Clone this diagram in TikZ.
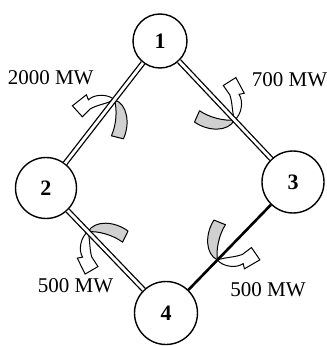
\documentclass[tikz,border=0pt]{standalone}
\usepackage{fontspec}
\setmainfont{Liberation Serif}
\usetikzlibrary{calc}
\definecolor{bandgray}{RGB}{208,208,208}
\tikzset{
  bus/.style={circle, draw=black, line width=1.4pt, fill=white,
    inner sep=0pt, font=\fontsize{22}{26}\selectfont\bfseries},
  dline/.style={draw=black, line width=1.3pt, double=white,
    double distance=2.8pt},
  sline/.style={draw=black, line width=2.6pt},
  flowlabel/.style={anchor=base, inner sep=0pt,
    font=\fontsize{21}{25}\selectfont},
  tailband/.style={fill=bandgray, draw=black, line width=1pt,
    line join=round},
  headband/.style={fill=white, draw=black, line width=1pt}
}
\newcommand{\flowarrow}[2]{%
  \begin{scope}[shift={(#1)},rotate=#2]
    \draw[tailband] (0,0) .. controls (13,-4) and (16,-24) .. (9,-39)
      -- (-3,-36) .. controls (2,-25) and (3,-10) .. (0,0) -- cycle;
    \draw[headband] (0,0) .. controls (-6,6) and (-20,6) .. (-26,0)
      -- (-28,5) -- (-42,-6) -- (-32,-17) -- (-24,-9)
      .. controls (-17,-5) and (-8,-4) .. (0,0) -- cycle;
  \end{scope}
}

\begin{document}
\begin{tikzpicture}[x=1pt,y=1pt]
  \useasboundingbox (0,0) rectangle (327,346);

  % Buses
  \node[bus,minimum size=54pt] (n1) at (160,305) {1};
  \node[bus,minimum size=61pt] (n2) at (46,158) {2};
  \node[bus,minimum size=62pt] (n3) at (293,164) {3};
  \node[bus,minimum size=63pt] (n4) at (166,33) {4};

  % Flow arrows
  \coordinate (pA) at ($(n1)!0.40!(n2)$);
  \coordinate (pB) at ($(n1)!0.56!(n3)$);
  \coordinate (pC) at ($(n2)!0.35!(n4)$);
  \coordinate (pD) at ($(n4)!0.405!(n3)$);
  \flowarrow{pA}{0}
  \flowarrow{pB}{-100}
  \flowarrow{pC}{78}
  \flowarrow{pD}{172}

  % Lines
  \draw[dline] (n1) -- (n2);
  \draw[dline] (n1) -- (n3);
  \draw[dline] (n2) -- (n4);
  \draw[sline] (n3) -- (n4);

  % Flow labels
  \node[flowlabel] (f12) at (50.7,261) {2000 MW};
  \node[flowlabel] (f13) at (289.5,259.3) {700 MW};
  \node[flowlabel] (f24) at (75.5,53) {500 MW};
  \node[flowlabel] (f34) at (268,49) {500 MW};
\end{tikzpicture}
\end{document}
